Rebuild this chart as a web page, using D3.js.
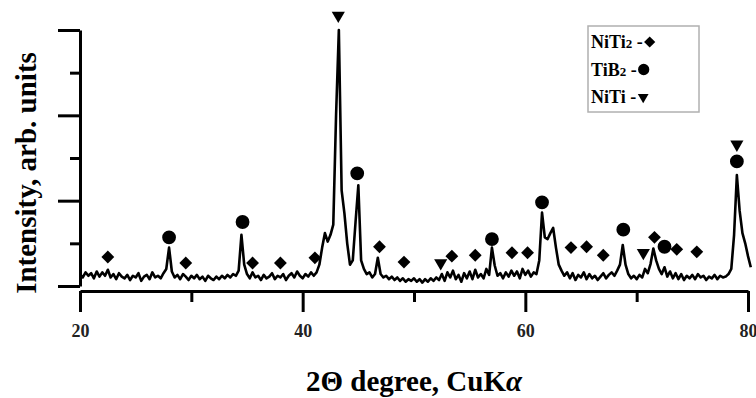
<!DOCTYPE html>
<html>
<head>
<meta charset="utf-8">
<script src="https://cdn.jsdelivr.net/npm/d3@7"></script>
<style>
  body { margin: 0; background: #fff; }
  svg { display: block; }
  text { font-family: "Liberation Serif", "Times New Roman", serif; font-weight: bold; fill: #000; }
</style>
</head>
<body>
<svg id="chart" width="756" height="398"></svg>
<script>
// Constants
const WIDTH = 756;
const HEIGHT = 398;

// Data: intensity sampled every 0.25 deg from 20.00 to 80.25 (2 theta)
const THETA_START = 20;
const THETA_STEP = 0.25;
const INTENSITY = [
  0.14, 0.10, 0.16, 0.12,  // 20
  0.15, 0.09, 0.17, 0.11,  // 21
  0.16, 0.12, 0.19, 0.10,  // 22
  0.14, 0.08, 0.15, 0.11,  // 23
  0.09, 0.13, 0.07, 0.12,  // 24
  0.10, 0.15, 0.06, 0.11,  // 25
  0.13, 0.08, 0.16, 0.10,  // 26
  0.12, 0.09, 0.15, 0.20,  // 27
  0.45, 0.17, 0.10, 0.13,  // 28
  0.08, 0.14, 0.11, 0.07,  // 29
  0.12, 0.09, 0.13, 0.08,  // 30
  0.11, 0.06, 0.12, 0.09,  // 31
  0.07, 0.11, 0.08, 0.12,  // 32
  0.09, 0.13, 0.10, 0.14,  // 33
  0.12, 0.18, 0.60, 0.25,  // 34
  0.14, 0.09, 0.16, 0.10,  // 35
  0.12, 0.07, 0.13, 0.09,  // 36
  0.11, 0.15, 0.08, 0.12,  // 37
  0.10, 0.14, 0.07, 0.12,  // 38
  0.15, 0.10, 0.17, 0.12,  // 39
  0.09, 0.14, 0.11, 0.16,  // 40
  0.12, 0.16, 0.25, 0.45,  // 41
  0.62, 0.52, 0.60, 0.72,  // 42
  2.00, 3.00, 1.12, 0.85,  // 43
  0.50, 0.25, 0.30, 0.75,  // 44
  1.18, 0.30, 0.20, 0.14,  // 45
  0.16, 0.10, 0.14, 0.33,  // 46
  0.14, 0.10, 0.12, 0.08,  // 47
  0.11, 0.07, 0.10, 0.06,  // 48
  0.09, 0.05, 0.08, 0.06,  // 49
  0.09, 0.05, 0.08, 0.04,  // 50
  0.08, 0.05, 0.09, 0.06,  // 51
  0.10, 0.07, 0.14, 0.06,  // 52
  0.16, 0.10, 0.18, 0.08,  // 53
  0.13, 0.05, 0.15, 0.09,  // 54
  0.17, 0.08, 0.19, 0.10,  // 55
  0.14, 0.09, 0.20, 0.13,  // 56
  0.45, 0.24, 0.12, 0.15,  // 57
  0.09, 0.16, 0.11, 0.18,  // 58
  0.12, 0.17, 0.09, 0.20,  // 59
  0.13, 0.18, 0.11, 0.16,  // 60
  0.14, 0.30, 0.86, 0.57,  // 61
  0.55, 0.62, 0.68, 0.45,  // 62
  0.25, 0.18, 0.12, 0.16,  // 63
  0.09, 0.15, 0.07, 0.13,  // 64
  0.10, 0.16, 0.08, 0.14,  // 65
  0.09, 0.12, 0.07, 0.11,  // 66
  0.15, 0.09, 0.13, 0.16,  // 67
  0.12, 0.18, 0.25, 0.48,  // 68
  0.25, 0.14, 0.09, 0.12,  // 69
  0.08, 0.13, 0.10, 0.20,  // 70
  0.15, 0.26, 0.44, 0.30,  // 71
  0.20, 0.14, 0.22, 0.11,  // 72
  0.17, 0.09, 0.15, 0.08,  // 73
  0.14, 0.07, 0.12, 0.09,  // 74
  0.13, 0.08, 0.14, 0.10,  // 75
  0.12, 0.07, 0.11, 0.09,  // 76
  0.13, 0.08, 0.12, 0.10,  // 77
  0.11, 0.14, 0.20, 0.60,  // 78
  1.30, 0.88, 0.62, 0.50,  // 79
  0.35, 0.22               // 80
];

// Phase markers: [2theta, height of the marker]
const NITI2_PEAKS = [
  [22.5, 0.34], [29.5, 0.27], [35.5, 0.27], [38.0, 0.27], [41.1, 0.33],
  [46.9, 0.46], [49.1, 0.28], [53.4, 0.35], [55.5, 0.36], [58.8, 0.39],
  [60.2, 0.39], [64.1, 0.45], [65.5, 0.46], [67.0, 0.36], [71.6, 0.57],
  [73.6, 0.43], [75.4, 0.40]
];
const TIB2_PEAKS = [
  [28.0, 0.57], [34.6, 0.75], [44.9, 1.32], [57.0, 0.55], [61.5, 0.98],
  [68.8, 0.66], [72.5, 0.46], [79.0, 1.46]
];
const NITI_PEAKS = [
  [43.2, 3.17], [52.4, 0.27], [70.6, 0.39], [79.0, 1.66]
];

const X_MAJOR = [20, 40, 60, 80];
const X_MINOR = [30, 50, 70];
const Y_MAJOR = [0, 1, 2, 3];
const Y_MINOR = [0.5, 1.5, 2.5];

const LEGEND = [
  { name: 'NiTi', sub: '2', shape: d3.symbolDiamond2 },
  { name: 'TiB', sub: '2', shape: d3.symbolCircle },
  { name: 'NiTi', sub: '', shape: d3.symbolTriangle }
];

// Scales
const xScale = d3.scaleLinear([20, 80], [80, 748]);
const yScale = d3.scaleLinear([0, 3], [286, 30]);

const svg = d3.select('#chart');

// Y axis
const yAxis = svg.append('g').attr('transform', 'translate(80,0)');
yAxis.call(d3.axisLeft(yScale).tickValues(Y_MAJOR).tickSize(22).tickSizeOuter(0).tickFormat(''));
yAxis.append('g').call(d3.axisLeft(yScale).tickValues(Y_MINOR).tickSize(10).tickSizeOuter(0).tickFormat(''))
  .select('.domain').remove();

// X axis
const xAxis = svg.append('g').attr('transform', 'translate(0,291)');
xAxis.call(d3.axisBottom(xScale).tickValues(X_MAJOR).tickSize(21).tickPadding(12).tickSizeOuter(0).tickFormat(d3.format('d')));
xAxis.append('g').call(d3.axisBottom(xScale).tickValues(X_MINOR).tickSize(11).tickSizeOuter(0).tickFormat(''))
  .select('.domain').remove();

svg.selectAll('.domain, .tick line')
  .attr('stroke', '#000')
  .attr('stroke-width', 3);
xAxis.selectAll('.tick text')
  .style('font-size', '18px')
  .style('font-family', '"Liberation Serif", serif')
  .style('font-weight', 'bold')
  .style('fill', '#222');

// Pattern line
const points = INTENSITY.map((v, i) => [THETA_START + i * THETA_STEP, v]);
svg.append('path')
  .datum(points)
  .attr('fill', 'none')
  .attr('stroke', '#000')
  .attr('stroke-width', 2.6)
  .attr('stroke-linejoin', 'round')
  .attr('d', d3.line().x(d => xScale(d[0])).y(d => yScale(d[1])));

// Markers
function drawMarkers(list, shape, size, rotate) {
  svg.append('g')
    .selectAll('path')
    .data(list)
    .join('path')
    .attr('d', d3.symbol(shape, size))
    .attr('fill', '#000')
    .attr('transform', d => `translate(${xScale(d[0])},${yScale(d[1])}) rotate(${rotate})`);
}
drawMarkers(NITI2_PEAKS, d3.symbolDiamond2, 105, 0);
drawMarkers(TIB2_PEAKS, d3.symbolCircle, 150, 0);
drawMarkers(NITI_PEAKS, d3.symbolTriangle, 75, 180);

// Legend
const legend = svg.append('g');
legend.append('rect')
  .attr('x', 588).attr('y', 26)
  .attr('width', 111).attr('height', 86)
  .attr('fill', '#fff')
  .attr('stroke', '#b0b0b0')
  .attr('stroke-width', 1.5);

LEGEND.forEach((item, i) => {
  const t = legend.append('text')
    .attr('x', 591)
    .attr('y', 48 + i * 27.5)
    .style('font-size', '18px');
  t.append('tspan').text(item.name);
  if (item.sub) t.append('tspan').style('font-size', '13px').text(item.sub);
  t.append('tspan').text(' -');
  const w = t.node().getComputedTextLength();
  legend.append('path')
    .attr('d', d3.symbol(item.shape, [80, 100, 50][i]))
    .attr('fill', '#000')
    .attr('transform', `translate(${591 + w + 7},${42 + i * 27.5}) rotate(${i === 2 ? 180 : 0})`);
});

// Axis titles
svg.append('text')
  .attr('transform', 'translate(36,173) rotate(-90)')
  .attr('text-anchor', 'middle')
  .style('font-size', '29px')
  .text('Intensity, arb. units');

const xt = svg.append('text')
  .attr('x', 414)
  .attr('y', 391)
  .attr('text-anchor', 'middle')
  .style('font-size', '29px');
xt.append('tspan').text('2Θ degree, CuK');
xt.append('tspan').style('font-style', 'italic').text('α');
</script>
</body>
</html>
